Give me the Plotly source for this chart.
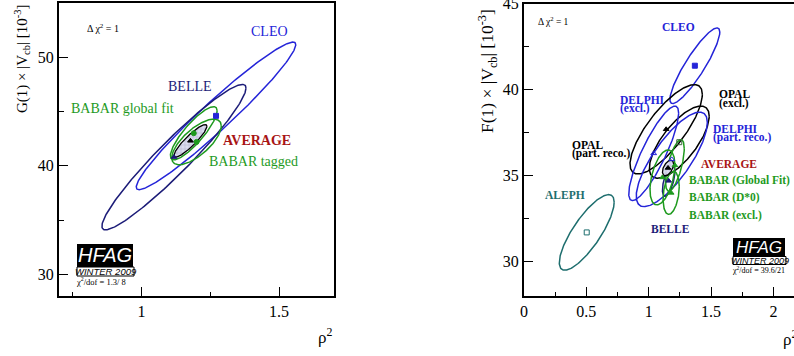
import numpy as np
import plotly.graph_objects as go

# ---------------- Left panel: G(1)|Vcb| vs rho^2 ----------------
L_names = ["CLEO", "BELLE", "BABAR global fit", "BABAR tagged", "AVERAGE"]
L_rho2 = [1.271, 1.118, 1.19, 1.20, 1.178]
L_G = [44.6, 40.8, 43.0, 42.2, 42.3]
L_err_rho2 = [0.29, 0.262, 0.085, 0.09, 0.06]
L_err_G = [6.8, 6.7, 2.45, 2.1, 1.5]
L_corr = [0.965, 0.95, 0.85, 0.70, 0.90]

# ---------------- Right panel: F(1)|Vcb| vs rho^2 ----------------
R_names = ["ALEPH", "CLEO", "OPAL (excl.)", "OPAL (part. reco.)", "DELPHI (excl.)",
           "DELPHI (part. reco.)", "BELLE", "BABAR (Global Fit)", "BABAR (D*0)",
           "BABAR (excl.)", "AVERAGE"]
R_rho2 = [0.503, 1.37, 1.14, 1.245, 1.04, 1.185, 1.16, 1.11, 1.18, 1.21, 1.155]
R_F = [31.7, 41.4, 37.7, 36.95, 36.3, 35.95, 34.7, 34.9, 34.0, 35.6, 35.45]
R_err_rho2 = [0.22, 0.20, 0.29, 0.24, 0.20, 0.285, 0.05, 0.10, 0.065, 0.075, 0.045]
R_err_F = [2.2, 2.2, 2.6, 2.1, 2.75, 2.75, 0.9, 1.6, 1.25, 1.5, 0.45]
R_corr = [0.80, 0.89, 0.78, 0.72, 0.85, 0.78, 0.6, 0.45, 0.30, 0.65, 0.5]

L_chi2 = "1.3/ 8"
R_chi2 = "39.6/21"

BLUE = "#2424d8"
NAVY = "#1c1c78"
GREEN = "#1e9a1e"
RED = "#a81414"
TEAL = "#1e6e6e"
BLACK = "#000000"

L_style = {
    "CLEO": (BLUE, "square", BLUE),
    "BELLE": (NAVY, "triangle-up", NAVY),
    "BABAR global fit": (GREEN, "circle", GREEN),
    "BABAR tagged": (GREEN, "circle", GREEN),
    "AVERAGE": (BLACK, "triangle-up", BLACK),
}
R_style = {
    "ALEPH": (TEAL, "square-open", TEAL),
    "CLEO": (BLUE, "square", BLUE),
    "OPAL (excl.)": (BLACK, "triangle-up", BLACK),
    "OPAL (part. reco.)": (BLACK, "square-open", "#3a6a3a"),
    "DELPHI (excl.)": (BLUE, "triangle-up-open", BLUE),
    "DELPHI (part. reco.)": (BLUE, "triangle-up-open", BLUE),
    "BELLE": (NAVY, "triangle-up", NAVY),
    "BABAR (Global Fit)": (GREEN, "triangle-up", GREEN),
    "BABAR (D*0)": (GREEN, "triangle-up", GREEN),
    "BABAR (excl.)": (GREEN, "triangle-up", GREEN),
    "AVERAGE": (BLACK, "triangle-up", BLACK),
}

t = np.linspace(0, 2 * np.pi, 240)


def ellipse(mx, my, sx, sy, r):
    x = mx + sx * np.cos(t)
    y = my + sy * (r * np.cos(t) + np.sqrt(1 - r * r) * np.sin(t))
    return x, y


fig = go.Figure()


def add_panel(names, xs, ys, exs, eys, cs, style, xa, ya):
    order = [i for i, n in enumerate(names) if n != "AVERAGE"] + [names.index("AVERAGE")]
    for i in order:
        n = names[i]
        col, sym, mcol = style[n]
        ex, ey = ellipse(xs[i], ys[i], exs[i], eys[i], cs[i])
        if n == "AVERAGE":
            fig.add_trace(go.Scatter(
                x=ex, y=ey, mode="lines", xaxis=xa, yaxis=ya, fill="toself",
                fillcolor="#d6d6ec",
                fillpattern=dict(shape="+", size=4, solidity=0.25,
                                 fgcolor="#8c8cac", bgcolor="#dcdcf0"),
                line=dict(color=col, width=1.3), hoverinfo="skip", showlegend=False))
        else:
            fig.add_trace(go.Scatter(
                x=ex, y=ey, mode="lines", xaxis=xa, yaxis=ya,
                line=dict(color=col, width=1.5), hoverinfo="skip", showlegend=False))
    for i in order:
        n = names[i]
        col, sym, mcol = style[n]
        fig.add_trace(go.Scatter(
            x=[xs[i]], y=[ys[i]], mode="markers", xaxis=xa, yaxis=ya,
            marker=dict(symbol=sym, size=5, color=mcol, line=dict(color=mcol, width=1)),
            showlegend=False, name=n))


add_panel(L_names, L_rho2, L_G, L_err_rho2, L_err_G, L_corr, L_style, "x", "y")
add_panel(R_names, R_rho2, R_F, R_err_rho2, R_err_F, R_corr, R_style, "x2", "y2")

W, H = 794, 356


def px(x):
    return x / W


def py(y):
    return 1 - y / H


SERIF = "Liberation Serif, Times New Roman, serif"
SANS = "Liberation Sans, Arial, sans-serif"

axis_common = dict(showline=True, linecolor="black", linewidth=2, ticks="inside",
                   tickcolor="black", tickwidth=1, showgrid=False, zeroline=False,
                   automargin=False, ticklabeloverflow="allow",
                   tickfont=dict(family=SERIF, size=16, color="black"))

fig.update_layout(
    width=W, height=H, margin=dict(l=0, r=0, t=0, b=0, autoexpand=False),
    paper_bgcolor="white", plot_bgcolor="white", showlegend=False,
    xaxis=dict(domain=[px(59), px(334)], range=[0.7, 1.7], anchor="y", mirror=True,
               tick0=0, dtick=0.5, ticklen=9,
               minor=dict(dtick=0.25, ticklen=4.5, ticks="inside", tickcolor="black"),
               **axis_common),
    yaxis=dict(domain=[py(296), py(3)], range=[28, 55], anchor="x", mirror=True,
               tickvals=[30, 40, 50], ticklen=9,
               minor=dict(tickvals=[35, 45], ticklen=4.5, ticks="inside", tickcolor="black"),
               **axis_common),
    xaxis2=dict(domain=[px(524), 1.0], range=[0, 2.165], anchor="y2", mirror=True,
                tick0=0, dtick=0.5, ticklen=9,
                minor=dict(dtick=0.25, ticklen=4.5, ticks="inside", tickcolor="black"),
                **axis_common),
    yaxis2=dict(domain=[py(296), py(3.5)], range=[28, 45.02], anchor="x2",
                tickvals=[30, 35, 40, 45], ticklen=9,
                minor=dict(tickvals=[32.5, 37.5, 42.5], ticklen=4.5, ticks="inside",
                           tickcolor="black"),
                **axis_common),
)

ann = []


def txt(x, y, s, size, color="black", xref="paper", yref="paper", xanchor="center",
        yanchor="middle", family=SERIF, angle=0):
    ann.append(dict(x=x, y=y, text=s, xref=xref, yref=yref, xanchor=xanchor,
                    yanchor=yanchor, showarrow=False, textangle=angle,
                    font=dict(family=family, size=size, color=color)))


# axis titles
txt(px(22), py(59), "G(1) × |V<sub>cb</sub>| [10<sup>-3</sup>]", 15, angle=-90)
txt(px(487), py(71), "F(1) × |V<sub>cb</sub>| [10<sup>-3</sup>]", 17.5, angle=-90)
txt(px(325), py(336), "ρ<sup>2</sup>", 17)
txt(px(781), py(338), "ρ<sup>2</sup>", 17, xanchor="left")

# left labels
txt(0.86, 52.7, "Δ χ<sup>2</sup> = 1", 10, xref="x", yref="y")
txt(1.465, 52.33, "CLEO", 14, BLUE, "x", "y")
txt(1.176, 47.34, "BELLE", 14, NAVY, "x", "y")
txt(0.93, 45.3, "BABAR global fit", 14, GREEN, "x", "y")
txt(1.42, 42.35, "<b>AVERAGE</b>", 14, RED, "x", "y")
txt(1.406, 40.38, "BABAR tagged", 14, GREEN, "x", "y")

# right labels
RS = 11.5
txt(0.235, 43.98, "Δ χ<sup>2</sup> = 1", 9.5, xref="x2", yref="y2")
txt(1.237, 43.67, "<b>CLEO</b>", RS, BLUE, "x2", "y2")
txt(1.55, 39.73, "<b>OPAL</b>", RS, BLACK, "x2", "y2", xanchor="left")
txt(1.55, 39.23, "<b>(excl.)</b>", RS, BLACK, "x2", "y2", xanchor="left")
txt(0.756, 39.38, "<b>DELPHI</b>", RS, BLUE, "x2", "y2", xanchor="left")
txt(0.756, 38.91, "<b>(excl.)</b>", RS, BLUE, "x2", "y2", xanchor="left")
txt(1.497, 37.73, "<b>DELPHI</b>", RS, BLUE, "x2", "y2", xanchor="left")
txt(1.497, 37.23, "<b>(part. reco.)</b>", RS, BLUE, "x2", "y2", xanchor="left")
txt(0.369, 36.79, "<b>OPAL</b>", RS, BLACK, "x2", "y2", xanchor="left")
txt(0.369, 36.31, "<b>(part. reco.)</b>", RS, BLACK, "x2", "y2", xanchor="left")
txt(1.406, 35.71, "<b>AVERAGE</b>", RS, RED, "x2", "y2", xanchor="left")
txt(1.305, 34.70, "<b>BABAR (Global Fit)</b>", RS, GREEN, "x2", "y2", xanchor="left")
txt(1.305, 33.74, "<b>BABAR (D*0)</b>", RS, GREEN, "x2", "y2", xanchor="left")
txt(1.305, 32.67, "<b>BABAR (excl.)</b>", RS, GREEN, "x2", "y2", xanchor="left")
txt(0.155, 33.88, "<b>ALEPH</b>", RS, TEAL, "x2", "y2", xanchor="left")
txt(1.005, 31.88, "<b>BELLE</b>", RS, NAVY, "x2", "y2", xanchor="left")

shapes = []


def logo(x0, x1, y0, y1, yw, hsize, wsize, cx, chi_y, chi_text, chi_size):
    shapes.append(dict(type="rect", xref="paper", yref="paper", x0=px(x0), x1=px(x1),
                       y0=py(y1), y1=py(y0), fillcolor="black", line=dict(width=0)))
    shapes.append(dict(type="rect", xref="paper", yref="paper", x0=px(x0), x1=px(x1 + 1),
                       y0=py(yw), y1=py(y1), fillcolor="white",
                       line=dict(color="black", width=1)))
    txt(px((x0 + x1) / 2), py((y0 + y1) / 2), "<i>HFAG</i>", hsize, "white", family=SANS)
    txt(px((x0 + x1) / 2 + 1), py((y1 + yw) / 2), "<i>WINTER 2009</i>", wsize, "black",
        family=SANS)
    txt(px(cx), py(chi_y), chi_text, chi_size)


logo(77, 133, 244, 267, 276, 20, 9.5, 100.5, 281.5, "χ<sup>2</sup>/dof = " + L_chi2, 8.5)
logo(733, 785, 238, 256.5, 264.5, 17, 9, 758.5, 270, "χ<sup>2</sup>/dof = " + R_chi2, 8)

fig.update_layout(annotations=ann, shapes=shapes)
fig.write_html("out.html", config={"displayModeBar": False},
               post_script="document.body.style.margin='0px';document.body.style.overflow='hidden';")
